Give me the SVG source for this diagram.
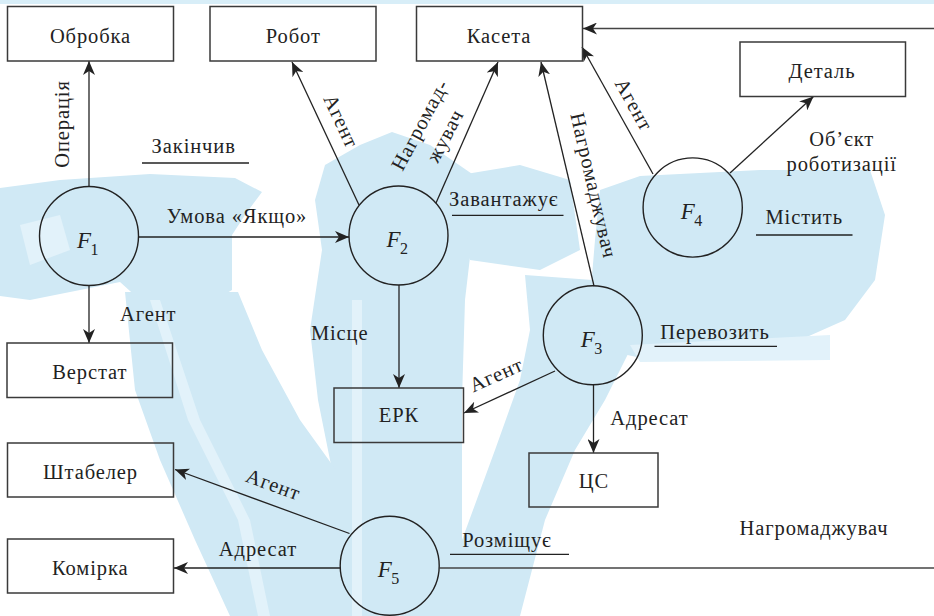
<svg xmlns="http://www.w3.org/2000/svg" width="934" height="616" viewBox="0 0 934 616">
  <style>
    .wm { fill: #d0e9f5; stroke: none; }
    .wm2 { fill: #e2f2fa; stroke: none; }
    .box { fill: none; stroke: #3a3a3a; stroke-width: 1.5; }
    .circ { fill: none; stroke: #222; stroke-width: 1.4; }
    .ln { fill: none; stroke: #222; stroke-width: 1.3; }
    .edge { fill: none; stroke: #444; stroke-width: 1.6; }
    text { font-family: 'Liberation Serif', 'Times New Roman', Times, serif; fill: #222; }
    .t { font-size: 20.5px; letter-spacing: 0.9px; }
    .m { text-anchor: middle; }
    .f { font-style: italic; font-size: 23px; }
    .sub { font-size: 16px; }
  </style>
  <defs>
    <marker id="arr" viewBox="0 0 14 12" refX="14" refY="6" markerWidth="14" markerHeight="12" markerUnits="userSpaceOnUse" orient="auto">
      <path d="M0,0 L14,6 L0,12 L4,6 Z" fill="#222"/>
    </marker>
  </defs>

  <rect width="934" height="616" fill="#ffffff"/>

  <!-- background watermark -->
  <g id="watermark">
    <rect x="0" y="0" width="934" height="4" fill="#d8eef8"/>
    <polygon class="wm" points="0,188 60,180 150,174 235,178 262,192 245,215 232,235 232,290 215,300 140,300 120,282 70,292 30,300 0,296"/>
    <polygon class="wm2" points="20,225 60,215 70,250 30,265"/>
    <polygon class="wm" points="325,165 360,145 392,132 430,145 478,178 472,240 465,300 462,400 462,616 335,616 332,470 318,400 310,330 322,250 315,200"/>
    <polygon class="wm2" points="352,300 362,300 362,616 352,616"/>
    <polygon class="wm" points="125,292 238,292 262,350 300,420 336,470 336,616 230,616 195,540 160,460 135,390"/>
    <polygon class="wm2" points="150,300 160,300 200,420 250,520 270,616 258,616 238,520 188,420"/>
    <polygon class="wm" points="525,275 660,285 640,330 605,400 575,450 545,520 520,616 445,616 462,540 495,450 520,380 530,330"/>
    <polygon class="wm" points="600,190 640,176 760,170 870,170 885,215 875,280 845,320 800,340 720,345 650,360 605,350 590,300 595,240"/>
    <polygon class="wm" points="460,175 520,165 570,180 580,250 540,270 470,260"/>
    <polygon class="wm2" points="630,345 830,335 830,360 640,362"/>
  </g>

  <!-- connectors -->
  <g id="connectors">
    <line class="ln" x1="89" y1="186.5" x2="89" y2="61" marker-end="url(#arr)"/>
    <line class="ln" x1="89" y1="285.5" x2="89" y2="343" marker-end="url(#arr)"/>
    <line class="ln" x1="138.5" y1="237" x2="349" y2="237" marker-end="url(#arr)"/>
    <line class="ln" x1="359" y1="205" x2="292" y2="62" marker-end="url(#arr)"/>
    <line class="ln" x1="436" y1="203" x2="498" y2="62" marker-end="url(#arr)"/>
    <line class="ln" x1="399" y1="285" x2="399" y2="388" marker-end="url(#arr)"/>
    <line class="ln" x1="594" y1="286" x2="541" y2="62" marker-end="url(#arr)"/>
    <line class="ln" x1="555" y1="371" x2="464" y2="413" marker-end="url(#arr)"/>
    <line class="ln" x1="593.5" y1="385" x2="593.5" y2="453" marker-end="url(#arr)"/>
    <line class="ln" x1="653" y1="174" x2="582" y2="47" marker-end="url(#arr)"/>
    <line class="ln" x1="730" y1="173" x2="813.5" y2="96.5" marker-end="url(#arr)"/>
    <line class="edge" x1="934" y1="28.5" x2="583" y2="28.5" marker-end="url(#arr)"/>
    <line class="ln" x1="349.5" y1="533.5" x2="175" y2="469.5" marker-end="url(#arr)"/>
    <line class="ln" x1="340" y1="568" x2="174" y2="568" marker-end="url(#arr)"/>
    <line class="edge" x1="439.5" y1="568" x2="934" y2="568"/>

    <!-- connector labels -->
    <text class="t m" transform="translate(69,124) rotate(-90)">Операція</text>
    <text class="t m" x="193.7" y="153.3">Закінчив</text>
    <line class="ln" x1="142" y1="163" x2="249" y2="163"/>
    <text class="t m" x="237" y="222.7">Умова «Якщо»</text>
    <text class="t m" x="148.2" y="321.3">Агент</text>
    <text class="t m" transform="translate(335,124) rotate(65)">Агент</text>
    <text class="t m" transform="translate(426,128) rotate(-62)">Нагромад-</text>
    <text class="t m" transform="translate(451,139) rotate(-62)">жувач</text>
    <text class="t m" x="503.8" y="205.7">Завантажує</text>
    <line class="ln" x1="452" y1="215.3" x2="563.5" y2="215.3"/>
    <text class="t m" transform="translate(587,187) rotate(77)">Нагромаджувач</text>
    <text class="t m" transform="translate(628,108) rotate(61)">Агент</text>
    <text class="t m" x="841.7" y="145.7">Об’єкт</text>
    <text class="t m" x="841.7" y="170.7">роботизації</text>
    <text class="t m" x="804.2" y="224">Містить</text>
    <line class="ln" x1="756" y1="235" x2="852.5" y2="235"/>
    <text class="t m" x="339.7" y="340.3">Місце</text>
    <text class="t m" transform="translate(499,381) rotate(-24)">Агент</text>
    <text class="t m" x="715" y="338.7">Перевозить</text>
    <line class="ln" x1="654.5" y1="346.3" x2="777" y2="346.3"/>
    <text class="t m" x="649.5" y="425.3">Адресат</text>
    <text class="t m" transform="translate(271,491) rotate(20)">Агент</text>
    <text class="t m" x="258" y="556.3">Адресат</text>
    <text class="t m" x="507" y="546.7">Розміщує</text>
    <line class="ln" x1="450" y1="554.3" x2="569" y2="554.3"/>
    <text class="t m" x="814" y="534.7">Нагромаджувач</text>
  </g>

  <!-- object boxes -->
  <g id="obrobka"><rect class="box" x="7.5" y="6.5" width="166" height="54.5"/><text class="t m" x="90.5" y="42.7">Обробка</text></g>
  <g id="robot"><rect class="box" x="210" y="6.5" width="166" height="54.5"/><text class="t m" x="293.3" y="42.7">Робот</text></g>
  <g id="kaseta"><rect class="box" x="416.5" y="6.5" width="166" height="54.5"/><text class="t m" x="499" y="42.7">Касета</text></g>
  <g id="detal"><rect class="box" x="740" y="42" width="165.5" height="54.5"/><text class="t m" x="822" y="78.3">Деталь</text></g>
  <g id="verstat"><rect class="box" x="7" y="343" width="165.5" height="54.5"/><text class="t m" x="89.8" y="379">Верстат</text></g>
  <g id="erk"><rect class="box" x="334" y="388" width="129.5" height="54.5"/><text class="t m" x="399" y="422.3">ЕРК</text></g>
  <g id="ts"><rect class="box" x="529" y="453" width="129" height="54"/><text class="t m" x="594" y="488">ЦС</text></g>
  <g id="shtabeler"><rect class="box" x="7.5" y="443" width="166" height="54"/><text class="t m" x="90.5" y="478.7">Штабелер</text></g>
  <g id="komirka"><rect class="box" x="7.5" y="539" width="166" height="54"/><text class="t m" x="90.3" y="574.7">Комірка</text></g>

  <!-- function nodes -->
  <g id="f1"><circle class="circ" cx="89" cy="236" r="49.5"/><text class="f" x="77" y="247.5">F</text><text class="sub" x="90.5" y="254.5">1</text></g>
  <g id="f2"><circle class="circ" cx="398.5" cy="235.5" r="49.5"/><text class="f" x="386.5" y="247">F</text><text class="sub" x="400" y="254">2</text></g>
  <g id="f3"><circle class="circ" cx="592.8" cy="335.3" r="49.5"/><text class="f" x="580.8" y="346.8">F</text><text class="sub" x="594.3" y="353.8">3</text></g>
  <g id="f4"><circle class="circ" cx="692.7" cy="207.5" r="49.6"/><text class="f" x="680.7" y="219">F</text><text class="sub" x="694.2" y="226">4</text></g>
  <g id="f5"><circle class="circ" cx="389.7" cy="565.7" r="49.5"/><text class="f" x="377.7" y="577.2">F</text><text class="sub" x="391.2" y="584.2">5</text></g>
</svg>
